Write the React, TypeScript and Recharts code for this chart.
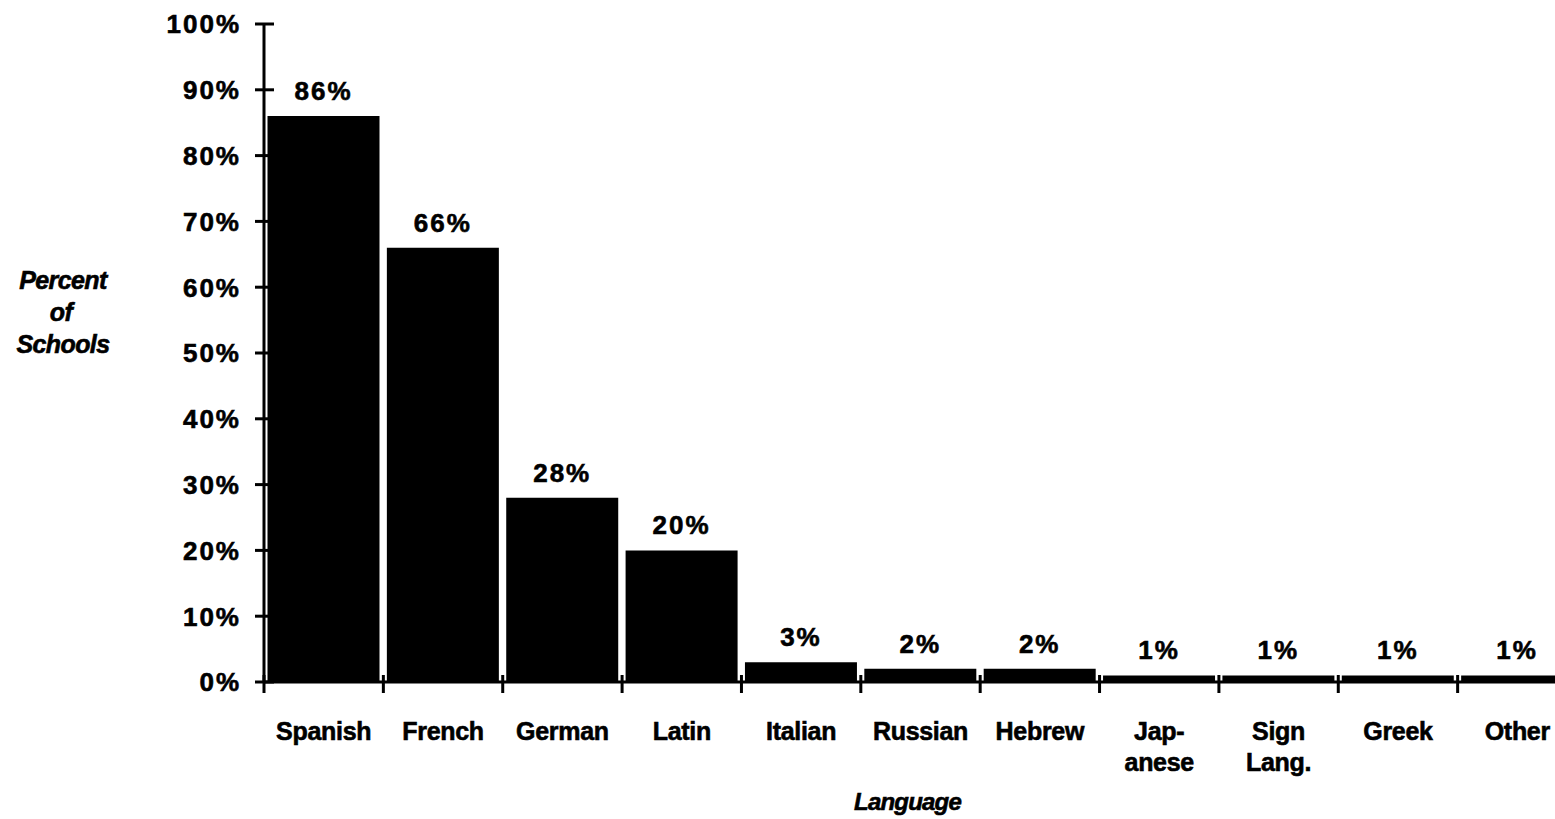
import React from 'react';
import { BarChart, Bar, XAxis, YAxis, LabelList } from 'recharts';

// categories as printed under the bars (\n = line break)
const languages = [
  'Spanish',
  'French',
  'German',
  'Latin',
  'Italian',
  'Russian',
  'Hebrew',
  'Jap-\nanese',
  'Sign\nLang.',
  'Greek',
  'Other',
];
const percentOfSchools = [86, 66, 28, 20, 3, 2, 2, 1, 1, 1, 1];
const yTicks = [0, 10, 20, 30, 40, 50, 60, 70, 80, 90, 100];

const data = languages.map((lang, i) => ({ lang, pct: percentOfSchools[i] }));

const FONT = '"Liberation Sans", Arial, Helvetica, sans-serif';
const CHART_W = 1569;
const CHART_H = 811;
const Y_AXIS_W = 256;
const BAND = (CHART_W - Y_AXIS_W) / languages.length;

function YTick(props: any) {
  const { x, y, payload } = props;
  return (
    <g>
      <line x1={x - 9} x2={x + 10} y1={y} y2={y} stroke="#000" strokeWidth={3} />
      <text
        x={x - 23}
        y={y}
        dy="0.36em"
        textAnchor="end"
        fontFamily={FONT}
        fontWeight="bold"
        fontSize={26}
        letterSpacing={2}
        fill="#000"
        stroke="#000"
        strokeWidth={0.6}
      >
        {`${payload.value}%`}
      </text>
    </g>
  );
}

function XTick(props: any) {
  const { x, y, payload } = props;
  const lines = String(payload.value).split('\n');
  const left = x - BAND / 2;
  return (
    <g>
      <line x1={left} x2={left} y1={y - 7} y2={y + 11} stroke="#000" strokeWidth={3} />
      <text
        x={x}
        y={y + 58}
        textAnchor="middle"
        fontFamily={FONT}
        fontWeight="bold"
        fontSize={25}
        letterSpacing={-0.3}
        fill="#000"
        stroke="#000"
        strokeWidth={0.6}
      >
        {lines.map((l, i) => (
          <tspan key={i} x={x} dy={i === 0 ? 0 : 31}>
            {l}
          </tspan>
        ))}
      </text>
    </g>
  );
}

function YTitle(props: any) {
  const vx = props.viewBox ? props.viewBox.x : 0;
  const cx = vx + 55;
  const style = {
    fontFamily: FONT,
    fontWeight: 'bold' as const,
    fontStyle: 'italic' as const,
    fontSize: 25,
    letterSpacing: -0.6,
    stroke: '#000',
    strokeWidth: 0.6,
  };
  return (
    <g>
      <text x={cx} y={281} textAnchor="middle" style={style} fill="#000">Percent</text>
      <text x={cx - 2} y={313} textAnchor="middle" style={style} fill="#000">of</text>
      <text x={cx} y={345} textAnchor="middle" style={style} fill="#000">Schools</text>
    </g>
  );
}

function XTitle(props: any) {
  const vb = props.viewBox || { x: 0, y: 0, width: 0 };
  return (
    <text
      x={vb.x + vb.width / 2 - 13}
      y={vb.y + 128}
      textAnchor="middle"
      fontFamily={FONT}
      fontWeight="bold"
      fontStyle="italic"
      fontSize={24}
      letterSpacing={-0.8}
      fill="#000"
      stroke="#000"
      strokeWidth={0.6}
    >
      Language
    </text>
  );
}

export default function App() {
  return (
    <div
      style={{
        position: 'fixed',
        left: 0,
        top: 0,
        width: '100vw',
        height: '100vh',
        overflow: 'hidden',
        background: '#fff',
      }}
    >
      <div style={{ position: 'absolute', left: 8, top: 8 }}>
        <BarChart
          width={CHART_W}
          height={CHART_H}
          data={data}
          margin={{ top: 16, right: 0, left: 0, bottom: 37 }}
          barCategoryGap={3.5}
        >
          <XAxis
            dataKey="lang"
            height={100}
            interval={0}
            tickSize={0}
            tickMargin={0}
            tickLine={false}
            axisLine={{ stroke: '#000', strokeWidth: 3 }}
            tick={<XTick />}
            label={{ content: <XTitle /> }}
          />
          <YAxis
            width={Y_AXIS_W}
            domain={[0, 100]}
            ticks={yTicks}
            interval={0}
            tickSize={0}
            tickMargin={0}
            tickLine={false}
            axisLine={{ stroke: '#000', strokeWidth: 3 }}
            tick={<YTick />}
            label={{ content: <YTitle /> }}
          />
          <Bar dataKey="pct" fill="#000" isAnimationActive={false}>
            <LabelList
              dataKey="pct"
              position="top"
              offset={16}
              formatter={(v: any) => `${v}%`}
              style={{
                fontFamily: FONT,
                fontWeight: 'bold',
                fontSize: 26,
                letterSpacing: 2,
                fill: '#000',
                stroke: '#000',
                strokeWidth: 0.6,
              }}
            />
          </Bar>
        </BarChart>
      </div>
    </div>
  );
}
